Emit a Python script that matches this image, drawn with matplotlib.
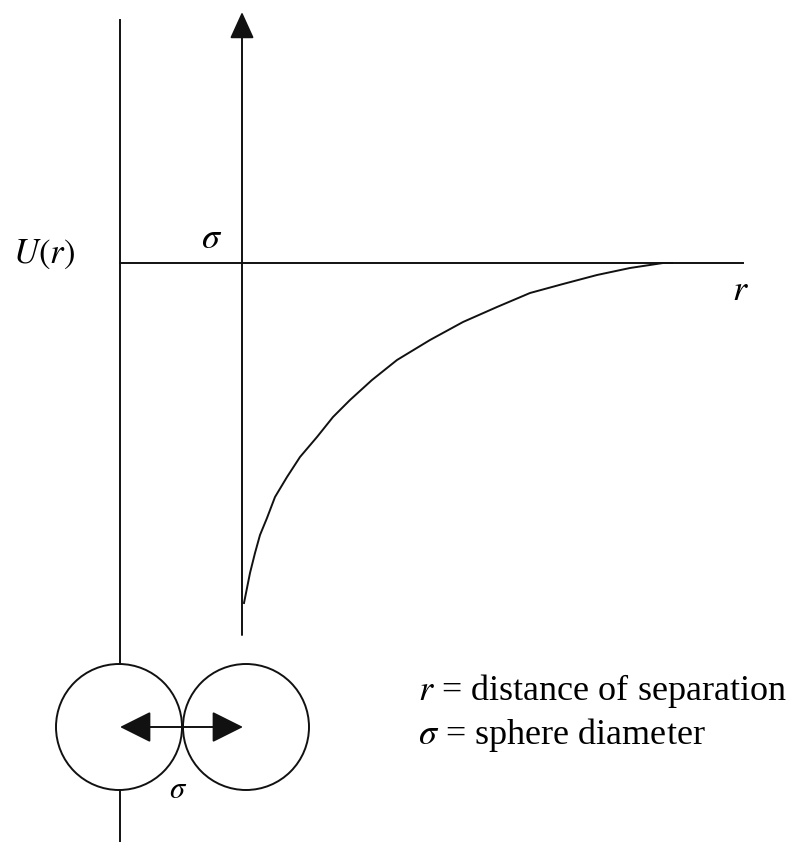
import matplotlib
matplotlib.use('Agg')
import matplotlib.pyplot as plt
from matplotlib.patches import Circle

plt.rcParams['mathtext.fontset'] = 'stix'
plt.rcParams['font.family'] = ['Liberation Serif', 'DejaVu Serif']

# everything in image pixel units (x right, y down)
curve_x = [244, 246, 250, 255, 260, 267, 275, 287, 300, 317, 333, 350, 372,
           397, 430, 463, 497, 530, 563, 597, 630, 663, 672]
curve_y = [603, 593, 573, 553, 535, 518, 497, 477, 457, 437, 417, 400, 380,
           360, 340, 322, 307, 293, 284, 275, 268, 263, 263]

wall_x = 120
sigma_x = 242
zero_y = 263
axis_end_x = 743
sphere_centers = [(119, 727), (246, 727)]
sphere_r = 63

BLACK = '#111111'
LW = 1.4

fig = plt.figure(figsize=(7.98, 8.42), dpi=100)
ax = fig.add_axes([0, 0, 1, 1])
ax.set_xlim(0, 798)
ax.set_ylim(842, 0)
ax.axis('off')

# hard wall line, broken by the left sphere
ax.plot([wall_x, wall_x], [20, sphere_centers[0][1] - sphere_r], color=BLACK, lw=LW)
ax.plot([wall_x, wall_x], [sphere_centers[0][1] + sphere_r, 842], color=BLACK, lw=LW)

# U(r) = 0 line
ax.plot([wall_x, axis_end_x], [zero_y, zero_y], color=BLACK, lw=LW)

# vertical arrow at r = sigma
ax.annotate('', xy=(sigma_x, 12), xytext=(sigma_x, 635),
            arrowprops=dict(arrowstyle='-|>,head_length=0.55,head_width=0.25',
                            mutation_scale=30, lw=LW, color=BLACK,
                            shrinkA=0, shrinkB=0))

# attractive well
ax.plot(curve_x, curve_y, color=BLACK, lw=LW, solid_joinstyle='round')

# spheres
for cx, cy in sphere_centers:
    ax.add_patch(Circle((cx, cy), sphere_r, fill=False, edgecolor=BLACK, lw=LW))
ax.annotate('', xy=(sphere_centers[1][0] - 3, sphere_centers[1][1]),
            xytext=(sphere_centers[0][0] + 1, sphere_centers[0][1]),
            arrowprops=dict(arrowstyle='<|-|>,head_length=0.7,head_width=0.35',
                            mutation_scale=28, lw=LW, color=BLACK,
                            shrinkA=0, shrinkB=0))

ax.text(13, 263, '$U(r)$', fontsize=25, ha='left', va='baseline')
ax.text(212, 248, r'$\sigma$', fontsize=26, ha='center', va='baseline')
ax.text(740, 300, '$r$', fontsize=26, ha='center', va='baseline')
ax.text(178, 798, r'$\sigma$', fontsize=22, ha='center', va='baseline')

ax.text(418, 700, '$r$ = distance of separation', fontsize=26, ha='left', va='baseline')
ax.text(418, 744, r'$\sigma$ = sphere diameter', fontsize=26, ha='left', va='baseline')

fig.savefig('out.png', dpi=100)
